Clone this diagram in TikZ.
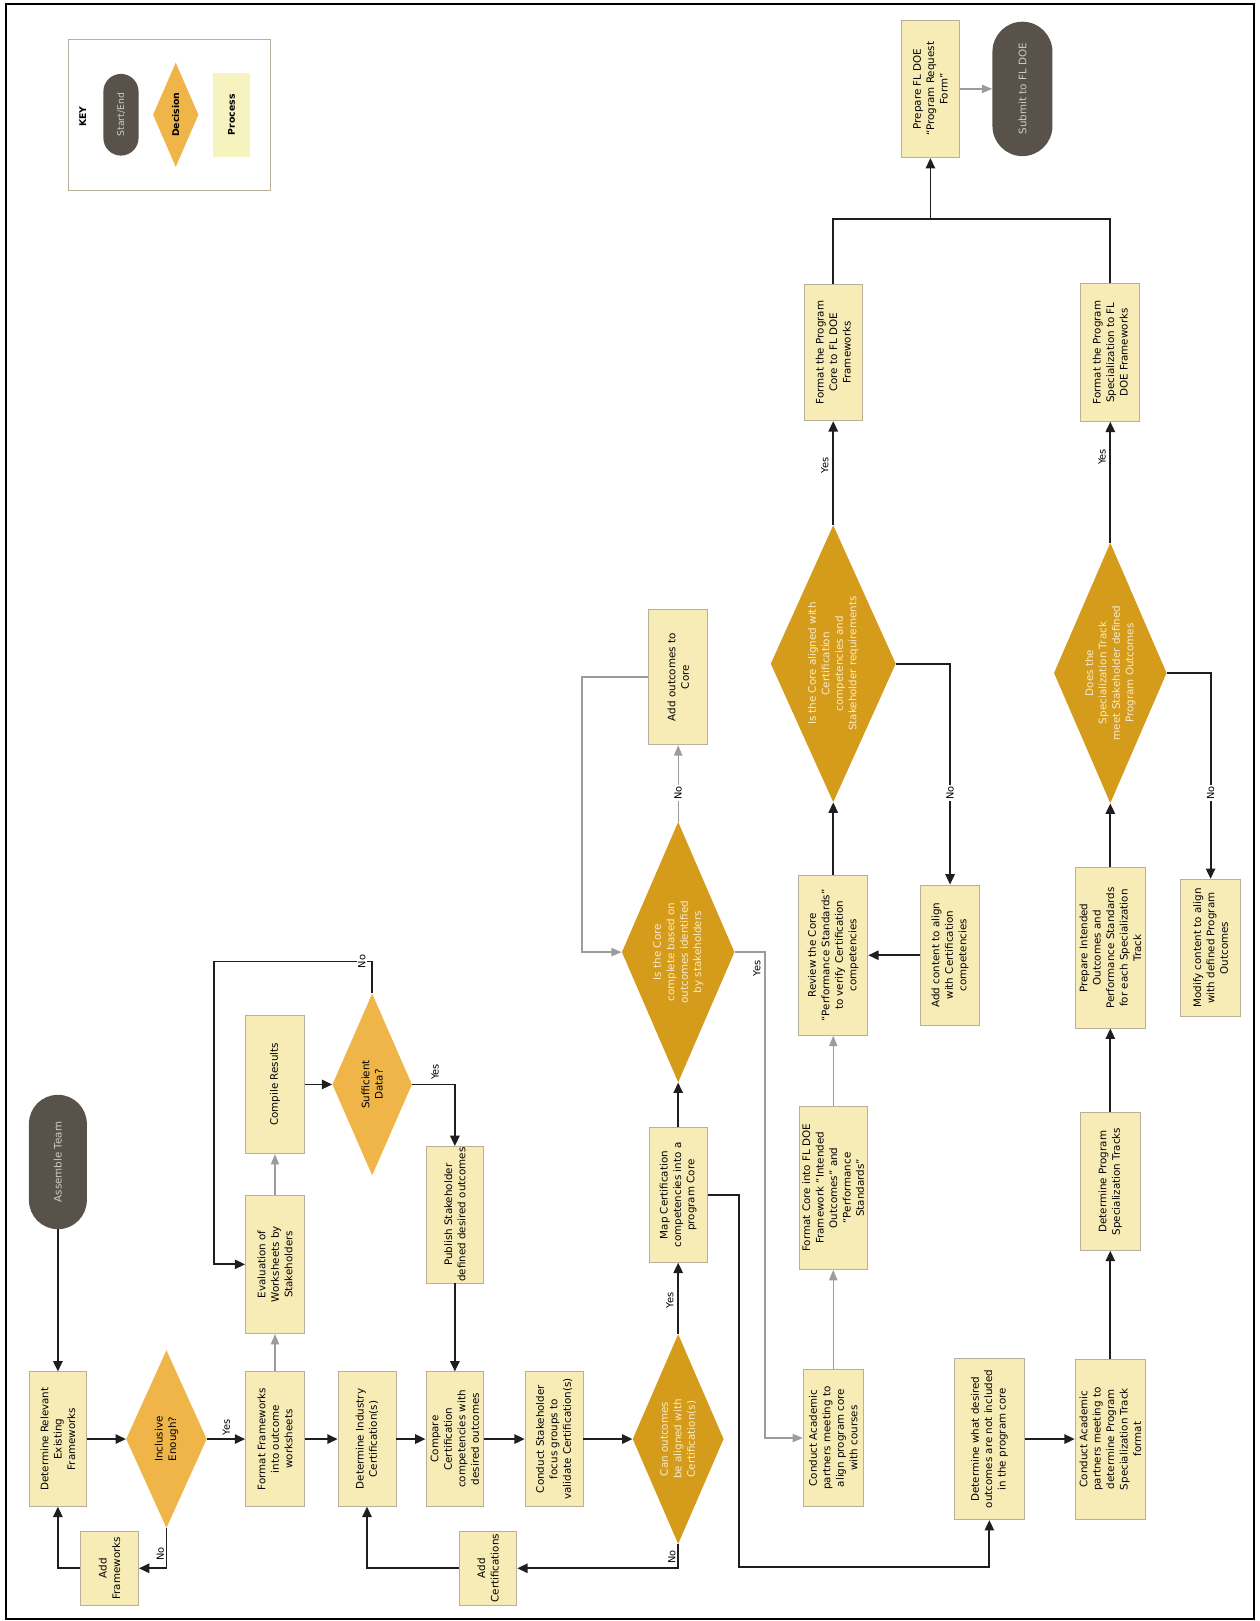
\documentclass[tikz,border=0pt]{standalone}
\usepackage{fontspec}
\setmainfont{DejaVu Sans}
\usetikzlibrary{arrows.meta,shapes.geometric,shapes.misc}
\definecolor{procfill}{HTML}{F8ECB6}
\definecolor{procline}{HTML}{B8B09A}
\definecolor{keyfill}{HTML}{F6F3BF}
\definecolor{declight}{HTML}{F0B548}
\definecolor{decdark}{HTML}{D59C1C}
\definecolor{dectext}{HTML}{F8EBCB}
\definecolor{termfill}{HTML}{58524B}
\definecolor{termtext}{HTML}{CFCBC4}
\definecolor{linedark}{HTML}{1E1E1E}
\definecolor{linegray}{HTML}{9C9C9C}

\begin{document}
\begin{tikzpicture}[x=1pt, y=-1pt, every node/.style={font=\fontsize{10}{13}\selectfont},
  proc/.style={draw=procline, line width=0.8pt, fill=procfill, rotate=90, align=center, inner sep=1pt},
  dec/.style={diamond, fill=declight, rotate=90, align=center, inner sep=0pt, shape aspect=2.3},
  decdk/.style={dec, fill=decdark, text=dectext},
  term/.style={rounded rectangle, fill=termfill, text=termtext, rotate=90, inner sep=1pt},
  lbl/.style={rotate=90, font=\fontsize{9.5}{11}\selectfont, inner sep=1pt},
  arr/.style={draw=linedark, line width=1.8pt, -{Triangle[length=10pt,width=9pt]}},
  garr/.style={draw=linegray, line width=1.3pt, -{Triangle[length=10pt,width=8pt]}},
  link/.style={draw=linedark, line width=1.8pt}]
\useasboundingbox (0,0) rectangle (1218,1568);
\draw[line width=2.5pt] (6,4) rectangle (1213,1566);

% key
\draw[procline, line width=1pt] (66,38) rectangle (262,184);
\node[rotate=90, font=\fontsize{9}{11}\selectfont\bfseries] (keytitle) at (80,113) {KEY};
\node[term, minimum width=81, minimum height=34, font=\fontsize{9}{11}\selectfont] (keystart) at (117,111) {Start/End};
\node[dec, minimum width=101, minimum height=44, font=\fontsize{9}{11}\selectfont\bfseries] (keydec) at (170,111) {Decision};
\node[rotate=90, fill=keyfill, minimum width=81, minimum height=36, font=\fontsize{9}{11}\selectfont\bfseries] (keyproc) at (224,111) {Process};

% first column block
\node[term, minimum width=132, minimum height=56] (asm) at (56,1124) {Assemble Team};
\node[proc, minimum width=130, minimum height=56] (detfw) at (56,1392) {Determine Relevant\\Existing\\Frameworks};
\node[dec, minimum width=172, minimum height=78] (incl) at (161,1392) {Inclusive\\Enough?};
\node[proc, minimum width=72, minimum height=56] (addfw) at (106,1517) {Add\\Frameworks};
\node[proc, minimum width=130, minimum height=57] (fmtfw) at (266,1392) {Format Frameworks\\into outcome\\worksheets};
\node[proc, minimum width=134, minimum height=57] (evalws) at (266,1223) {Evaluation of\\Worksheets by\\Stakeholders};
\node[proc, minimum width=134, minimum height=57] (compile) at (266,1049) {Compile Results};
\node[dec, minimum width=176, minimum height=77] (suff) at (360,1049) {Sufficient\\Data?};
\node[proc, minimum width=132, minimum height=55] (publish) at (440,1175) {Publish Stakeholder\\defined desired outcomes};
\node[proc, minimum width=130, minimum height=56] (detcert) at (355,1392) {Determine Industry\\Certification(s)};
\node[proc, minimum width=130, minimum height=56] (compare) at (440,1392) {Compare\\Certification\\competencies with\\desired outcomes};
\node[proc, minimum width=130, minimum height=56] (focus) at (536,1392) {Conduct Stakeholder\\focus groups to\\validate Certification(s)};
\node[decdk, minimum width=203, minimum height=88] (canalign) at (656,1392) {Can outcomes\\be aligned with\\Certification(s)};
\node[proc, minimum width=71, minimum height=56] (addcert) at (472,1517) {Add\\Certifications};

% core block
\node[proc, minimum width=130, minimum height=56] (mapcore) at (656,1156) {Map Certification\\competencies into a\\program Core};
\node[decdk, minimum width=252, minimum height=109] (corecomplete) at (656,921) {Is the Core\\complete based on\\outcomes identified\\by stakeholders};
\node[proc, minimum width=131, minimum height=57] (addout) at (656,655) {Add outcomes to\\Core};
\node[proc, minimum width=133, minimum height=58] (acadalign) at (806,1391) {Conduct Academic\\partners meeting to\\align program core\\with courses};
\node[proc, minimum width=158, minimum height=66] (fmtcore) at (806,1149) {Format Core into FL DOE\\Framework ``Intended\\Outcomes'' and\\``Performance\\Standards''};
\node[proc, minimum width=155, minimum height=67] (review) at (806,924) {Review the Core\\``Performance Standards''\\to verify Certification\\competencies};
\node[decdk, minimum width=268, minimum height=121] (corealigned) at (806,642) {Is the Core aligned with\\Certification\\competencies and\\Stakeholder requirements};
\node[proc, minimum width=136, minimum height=57] (addcont) at (919,924) {Add content to align\\with Certification\\competencies};
\node[proc, minimum width=132, minimum height=56] (fmtpcore) at (806,341) {Format the Program\\Core to FL DOE\\Frameworks};
\node[proc, minimum width=133, minimum height=56] (prepform) at (900,86) {Prepare FL DOE\\``Program Request\\Form''};
\node[term, minimum width=132, minimum height=58] (submit) at (989,86) {Submit to FL DOE};

% specialization block
\node[proc, minimum width=156, minimum height=68] (detmiss) at (957,1392) {Determine what desired\\outcomes are not included\\in the program core};
\node[proc, minimum width=155, minimum height=68] (acadspec) at (1074,1392) {Conduct Academic\\partners meeting to\\determine Program\\Specialization Track\\format};
\node[proc, minimum width=133, minimum height=58] (dettracks) at (1074,1143) {Determine Program\\Specialization Tracks};
\node[proc, minimum width=155, minimum height=68] (prepout) at (1074,917) {Prepare Intended\\Outcomes and\\Performance Standards\\for each Specialization\\Track};
\node[decdk, minimum width=252, minimum height=109] (trackmeet) at (1074,651) {Does the\\Specialization Track\\meet Stakeholder defined\\Program Outcomes};
\node[proc, minimum width=133, minimum height=58] (modify) at (1171,917) {Modify content to align\\with defined Program\\Outcomes};
\node[proc, minimum width=133, minimum height=57] (fmtspec) at (1074,341) {Format the Program\\Specialization to FL\\DOE Frameworks};

% corner points
\coordinate (suffno) at (360,930);
\coordinate (evalloop) at (207,930);
\coordinate (outloop) at (563,655);
\coordinate (coreyes) at (740,921);
\coordinate (mapdown) at (715,1516);
\coordinate (join) at (900,212);

% connectors
\draw[arr] (asm) -- (detfw);
\draw[arr] (detfw) -- (incl);
\draw[arr] (incl) -- (fmtfw);
\draw[arr] (incl.west) |- (addfw.south);
\draw[arr] (addfw.north) -| (detfw.west);
\draw[garr] (fmtfw) -- (evalws);
\draw[garr] (evalws) -- (compile);
\draw[arr] (compile) -- (suff);
\draw[arr] (suff.east) -- (suffno) -- (evalloop) |- (evalws.north);
\draw[arr] (suff.south) -| (publish.east);
\draw[arr] (publish) -- (compare);
\draw[arr] (fmtfw) -- (detcert);
\draw[arr] (detcert) -- (compare);
\draw[arr] (compare) -- (focus);
\draw[arr] (focus) -- (canalign);
\draw[arr] (canalign) -- (mapcore);
\draw[arr] (canalign.west) |- (addcert.south);
\draw[arr] (addcert.north) -| (detcert.west);
\draw[arr] (mapcore) -- (corecomplete);
\draw[garr] (corecomplete) -- (addout);
\draw[garr] (addout.north) -- (outloop) |- (corecomplete.north);
\draw[garr] (corecomplete.south) -- (coreyes) |- (acadalign.north);
\draw[arr] (mapcore.south) -| (mapdown) -| (detmiss.west);
\draw[garr] (acadalign) -- (fmtcore);
\draw[garr] (fmtcore) -- (review);
\draw[arr] (review) -- (corealigned);
\draw[arr] (corealigned.south) -| (addcont.east);
\draw[arr] (addcont) -- (review);
\draw[arr] (corealigned) -- (fmtpcore);
\draw[link] (fmtpcore.east) |- (join) -| (fmtspec.east);
\draw[arr] (join) -- (prepform);
\draw[garr] (prepform) -- (submit);
\draw[arr] (detmiss) -- (acadspec);
\draw[arr] (acadspec) -- (dettracks);
\draw[arr] (dettracks) -- (prepout);
\draw[arr] (prepout) -- (trackmeet);
\draw[arr] (trackmeet.south) -| (modify.east);
\draw[arr] (trackmeet) -- (fmtspec);

% yes / no labels
\node[lbl] (inclyes) at (219,1381) {Yes};
\node[lbl] (inclno) at (155,1503) {No};
\node[lbl, fill=white] (suffnolbl) at (350,930) {No};
\node[lbl] (suffyes) at (421,1037) {Yes};
\node[lbl] (canyes) at (648,1258) {Yes};
\node[lbl] (canno) at (650,1506) {No};
\node[lbl, fill=white] (coreno) at (656,767) {No};
\node[lbl] (coreyeslbl) at (732,937) {Yes};
\node[lbl, fill=white] (alignno) at (919,767) {No};
\node[lbl] (alignyes) at (798,450) {Yes};
\node[lbl, fill=white] (trackno) at (1171,767) {No};
\node[lbl] (trackyes) at (1066,442) {Yes};
\end{tikzpicture}
\end{document}
